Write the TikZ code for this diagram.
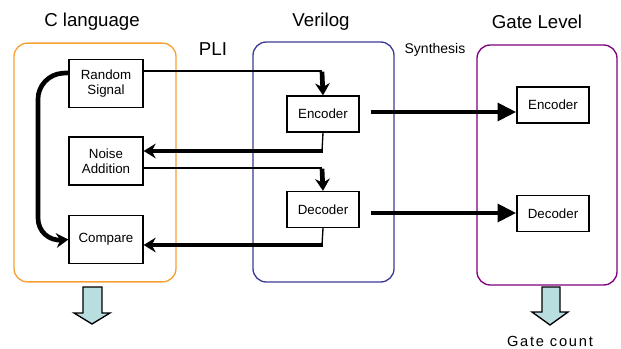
\documentclass[tikz,border=0pt]{standalone}
\usepackage{fontspec}
\setmainfont{Liberation Sans}
\usepackage{xcolor}
\definecolor{corange}{RGB}{247,160,50}
\definecolor{vblue}{RGB}{60,60,150}
\definecolor{gpurple}{RGB}{128,0,128}
\definecolor{lightcyan}{RGB}{185,222,224}
\usetikzlibrary{arrows.meta,calc}

\begin{document}
\begin{tikzpicture}[x=0.75pt, y=-0.75pt,
    block/.style={draw, line width=1pt, align=center, inner sep=0pt,
      font=\fontsize{10}{11.5}\selectfont},
    level/.style={draw, line width=1pt, rounded corners=10pt, inner sep=0pt},
    title/.style={font=\fontsize{14}{16}\selectfont},
    thinline/.style={line width=1pt},
    pli/.style={line width=3.5pt, -{Stealth[length=9pt, width=11pt]}},
    synth/.style={line width=3.5pt, -{Triangle[length=14pt, width=13pt]}},
    outarrow/.style={draw, fill=lightcyan, line width=1pt}]
    \useasboundingbox (0,0) rectangle (621,349);

    %  the three levels
    \node[level, draw=corange, minimum width=121.5pt, minimum height=179pt] (clang) at (95,162.5) {};
    \node[level, draw=vblue, minimum width=105.75pt, minimum height=180pt] (verilog) at (323.5,162) {};
    \node[level, draw=gpurple, minimum width=105pt, minimum height=180pt] (gate) at (547,165) {};
    \node[title] (clangt) at (92,22) {C language};
    \node[title] (verilogt) at (321,22) {Verilog};
    \node[title] (gatet) at (537,22) {Gate Level};
    \node[title] (plit) at (213,49) {PLI};
    \node[font=\fontsize{10.5}{12}\selectfont] (synt) at (435,50) {Synthesis};

    %  C side
    \node[block, minimum width=55.5pt, minimum height=36pt] (rs) at (106,83.5) {Random\\Signal};
    \node[block, minimum width=55.5pt, minimum height=36pt] (na) at (106,161) {Noise\\Addition};
    \node[block, minimum width=55.5pt, minimum height=36pt] (cmp) at (106,239.5) {Compare};

    %  Verilog side
    \node[block, minimum width=54pt, minimum height=27pt] (enc) at (323,114) {Encoder};
    \node[block, minimum width=54pt, minimum height=27pt] (dec) at (323,209.5) {Decoder};

    %  gate level
    \node[block, minimum width=54pt, minimum height=27pt] (genc) at (553,105) {Encoder};
    \node[block, minimum width=54pt, minimum height=27pt] (gdec) at (553,213.5) {Decoder};

    %  loop from random signal to compare
    \draw[line width=3.5pt, rounded corners=18pt, -{Stealth[length=9pt, width=11pt]}]
      ([yshift=8pt]rs.west) -- (38,75) -- (38,242) -- (cmp.west);

    %  PLI connections
    \coordinate (p1) at (322,71);
    \coordinate (p2) at (322,151);
    \coordinate (p3) at (322,168);
    \coordinate (p4) at (322,245);
    \draw[thinline] (rs.east |- p1) -- (p1);
    \draw[pli] ([yshift=-0.5pt]p1) -- (enc.north);
    \draw[thinline] (enc.south) -- (p2);
    \draw[pli] ([xshift=0.5pt]p2) -- (na.east |- p2);
    \draw[thinline] (na.east |- p3) -- (p3);
    \draw[pli] ([yshift=-0.5pt]p3) -- (dec.north);
    \draw[thinline] (dec.south) -- (p4);
    \draw[pli] ([xshift=0.5pt]p4) -- (cmp.east |- p4);

    %  synthesis
    \coordinate (s1) at (371,112);
    \coordinate (s2) at (371,213);
    \draw[synth] (s1) -- (genc.west |- s1);
    \draw[synth] (s2) -- (gdec.west |- s2);

    %  outputs
    \draw[outarrow] (83,287) -- (102,287) -- (102,313) -- (110,313) -- (92,324)
      -- (74,313) -- (83,313) -- cycle;
    \draw[outarrow] (542,287) -- (560,287) -- (560,312) -- (568,312) -- (550,325)
      -- (532,312) -- (542,312) -- cycle;
    \node[font=\fontsize{11}{13}\selectfont\addfontfeature{LetterSpace=12}] (gcount) at (550,341) {Gate count};
\end{tikzpicture}
\end{document}
